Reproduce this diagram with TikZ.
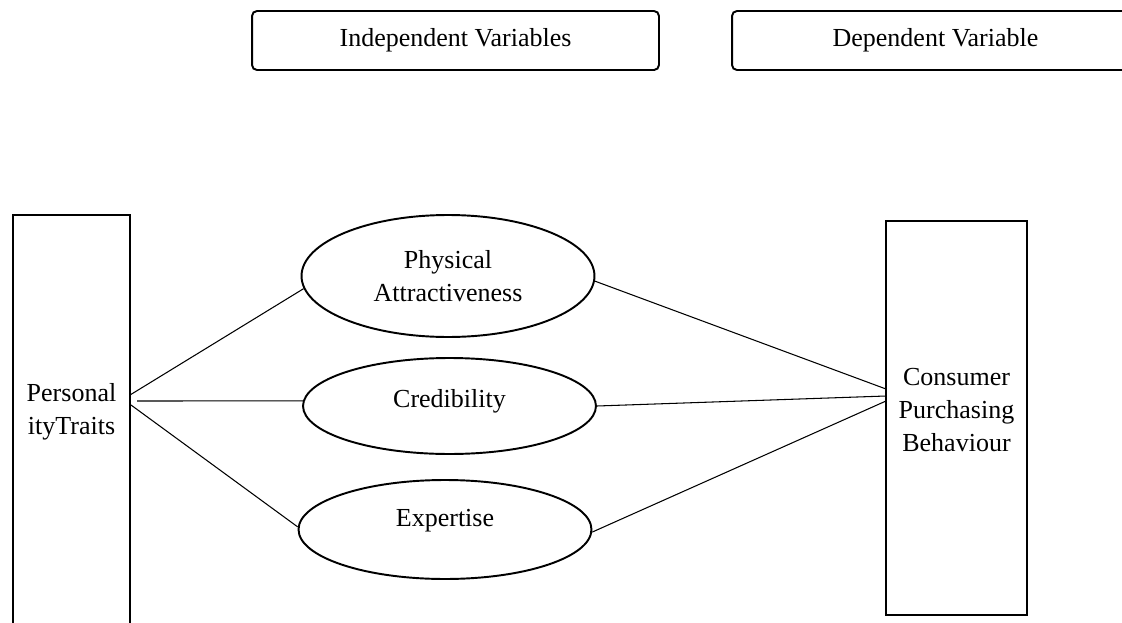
\documentclass[tikz,border=0pt]{standalone}
\usepackage{fontspec}
\setmainfont{Liberation Serif}
\usetikzlibrary{shapes.geometric}
\begin{document}
\begin{tikzpicture}
[x=0.02cm, y=-0.02cm, color=black,
 font=\fontsize{14.8}{18.8}\selectfont,
 head/.style={draw, line width=1.1pt, rounded corners=2.8pt,
   minimum width=8.14cm, minimum height=1.18cm},
 bar/.style={draw, line width=1.1pt, minimum width=2.34cm},
 oval/.style={draw, ellipse, line width=1.1pt, align=center,
   inner sep=0pt, minimum width=5.86cm},
 link/.style={line width=0.6pt}]
  \useasboundingbox (0,0) rectangle (1122,622);
  % headings
  \node[head] (iv) at (455.5,40.5) {Independent Variables};
  \node[head] (dv) at (935.5,40.5) {Dependent Variable};
  % left and right boxes
  \node[bar, minimum height=8.6cm] (pt) at (71.5,430) {};
  \node[align=center] (ptt) at (71.5,412) {Personal\\ityTraits};
  \node[bar, minimum width=2.82cm, minimum height=7.88cm] (cpb) at (956.5,418) {};
  \node[align=center] (cpbt) at (956.5,410) {Consumer\\Purchasing\\Behaviour};
  % the three variables
  \node[oval, minimum height=2.44cm] (pa) at (448,276) {Physical\\Attractiveness};
  \node[oval, minimum height=1.92cm, text depth=0.31cm] (cr) at (449.5,406) {Credibility};
  \node[oval, minimum height=1.98cm, text depth=0.45cm] (ex) at (445,529.5) {Expertise};
  \coordinate (pt1) at (130,395);
  \coordinate (pt2) at (137,401);
  \coordinate (pt3) at (131,405);
  \coordinate (cpb1) at (886,389);
  \coordinate (cpb2) at (886,396);
  \coordinate (cpb3) at (886,401);
  \foreach \from/\to in {pt1/pa.185,pt2/cr.178,pt3/ex.179,
      pa.358/cpb1,cr.0/cpb2,ex.359/cpb3}
  \draw[link] (\from) -- (\to);
\end{tikzpicture}
\end{document}
